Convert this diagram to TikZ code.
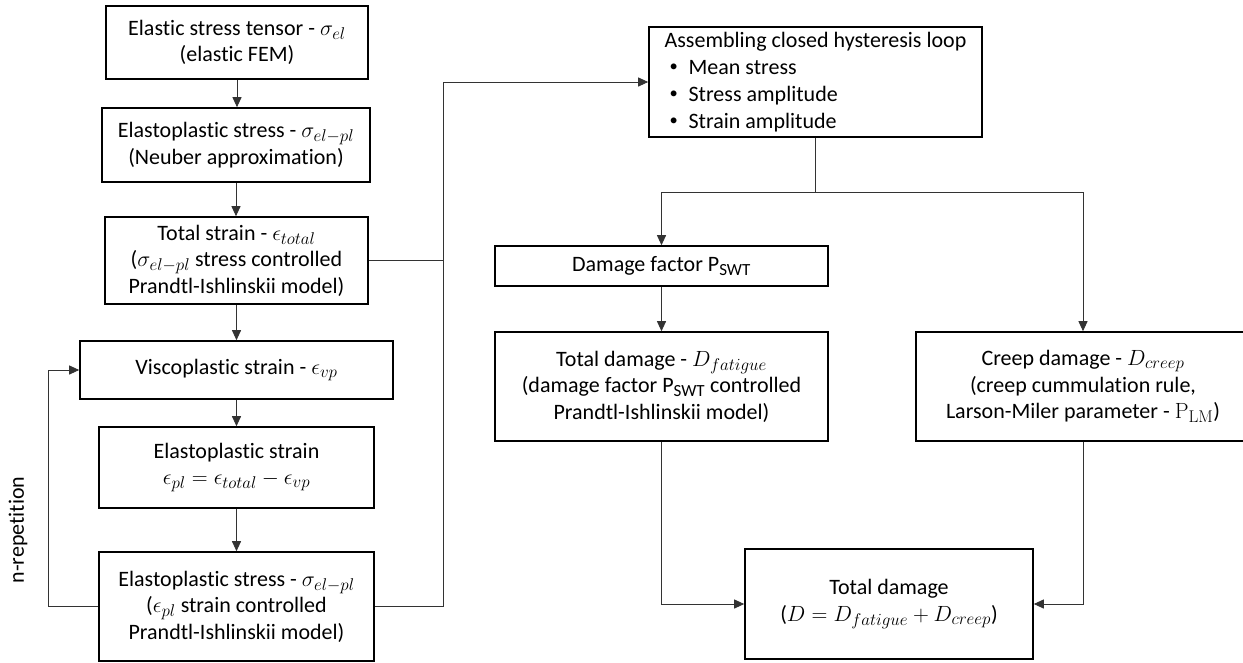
\documentclass[tikz,border=0pt]{standalone}
\usepackage{fix-cm}
\usepackage[no-math]{fontspec}
\setmainfont[Ligatures=NoCommon]{Carlito}
\DeclareMathSizes{22}{22}{17}{13}
\newcommand{\itembul}{\makebox[24pt][l]{\hspace{5pt}\raisebox{0.25ex}{\scalebox{0.75}{\textbullet}}}}
\usetikzlibrary{arrows.meta, calc}
\tikzset{box/.style = {draw, line width=1.6pt, align=center, inner sep=0pt, font=\fontsize{22}{26.5}\selectfont}}
\tikzset{conn/.style = {line width=0.9pt, black!80}}
\tikzset{arr/.style = {conn, -{Triangle[length=10pt, width=9pt]}}}

\begin{document}
\begin{tikzpicture}[x=1pt, y=-1pt]
		\useasboundingbox (0, 0) rectangle (1243, 662);
		\node[box, minimum width=262, minimum height=73] (sel) at (237, 42.5) {Elastic stress tensor - $\sigma_{el}$\\(elastic FEM)};
		\node[box, minimum width=268, minimum height=74] (neuber) at (236, 145) {Elastoplastic stress - $\sigma_{el-pl}$\\(Neuber approximation)};
		\node[box, minimum width=263, minimum height=87] (total) at (236.5, 260.5) {Total strain - $\epsilon_{total}$\\($\sigma_{el-pl}$ stress controlled\\Prandtl-Ishlinskii model)};
		\node[box, minimum width=313, minimum height=58] (visco) at (236.5, 370) {Viscoplastic strain - $\epsilon_{vp}$};
		\node[box, minimum width=275, minimum height=81] (epl) at (236.5, 467.5) {Elastoplastic strain\\$\epsilon_{pl}=\epsilon_{total}-\epsilon_{vp}$};
		\node[box, minimum width=275, minimum height=109] (spl) at (236.5, 606.5) {Elastoplastic stress - $\sigma_{el-pl}$\\($\epsilon_{pl}$ strain controlled\\Prandtl-Ishlinskii model)};
		\node[box, minimum width=333, minimum height=110, align=left, font=\fontsize{22}{26.8}\selectfont] (loop) at (815.5, 82) {Assembling closed hysteresis loop\\\itembul Mean stress\\\itembul Stress amplitude\\\itembul Strain amplitude};
		\node[box, minimum width=333, minimum height=40] (pswt) at (661.5, 266) {Damage factor P\textsubscript{SWT}};
		\node[box, minimum width=333, minimum height=109] (fatigue) at (661.5, 386.5) {Total damage - $D_{fatigue}$\\(damage factor P\textsubscript{SWT} controlled\\Prandtl-Ishlinskii model)};
		\node[box, minimum width=334, minimum height=109] (creep) at (1083, 386.5) {Creep damage - $D_{creep}$\\(creep cummulation rule,\\Larson-Miler parameter - $\mathrm{P}_{\mathrm{LM}}$)};
		\node[box, minimum width=288, minimum height=110] (dtot) at (889, 604) {Total damage\\($D=D_{fatigue}+D_{creep}$)};
		\node[rotate=90, font=\fontsize{22}{26.5}\selectfont] (nrep) at (18, 530) {n-repetition};
		\coordinate (back) at (48, 0);
		\coordinate (join) at (443, 0);
		\coordinate (split) at (815.5, 192);
		\draw[arr] (sel.south) -- (sel.south |- neuber.north);
		\draw[arr] (neuber.south) -- (neuber.south |- total.north);
		\draw[arr] (total.south) -- (visco.north);
		\draw[arr] (visco.south) -- (epl.north);
		\draw[arr] (epl.south) -- (spl.north);
		\draw[arr] (spl.west) -- (spl.west -| back) |- (visco.west);
		\draw[conn] (total.east) -- (total.east -| join);
		\draw[arr] (spl.east) -- (spl.east -| join) |- (loop.west);
		\draw[conn] (loop.south) -- (split);
		\draw[arr] (split) -| (pswt.north);
		\draw[arr] (split) -| (creep.north);
		\draw[arr] (pswt.south) -- (fatigue.north);
		\draw[arr] (fatigue.south) |- (dtot.west);
		\draw[arr] (creep.south) |- (dtot.east);
	\end{tikzpicture}
\end{document}
